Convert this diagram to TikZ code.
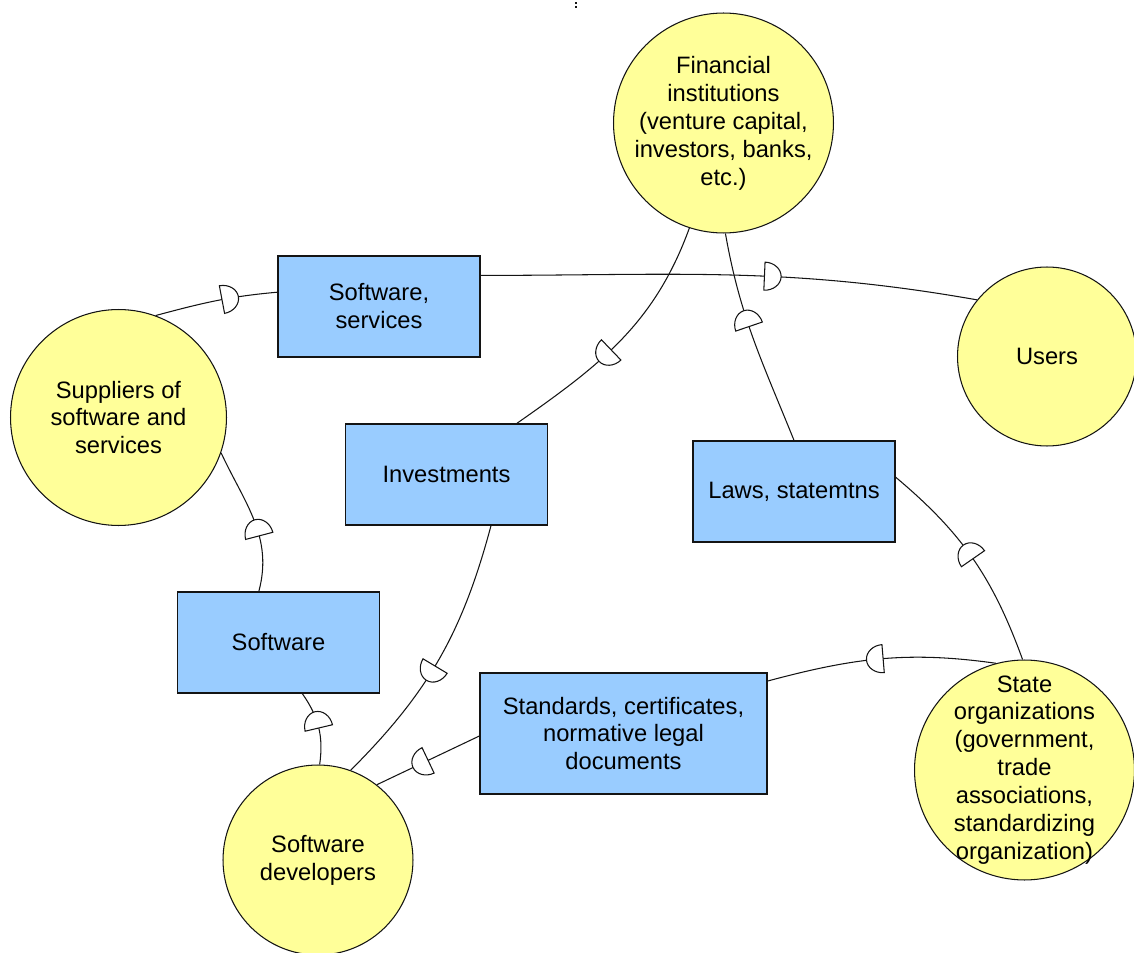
\documentclass[tikz,border=0pt]{standalone}
\usepackage{fontspec}
\setmainfont{Liberation Sans}
\usepackage{tikz}
\usetikzlibrary{decorations.markings}
\definecolor{boxblue}{RGB}{153,204,255}
\definecolor{bubyellow}{RGB}{255,255,153}
\definecolor{mydark}{RGB}{20,20,20}
\newcommand{\halfdisk}{\draw[draw=mydark, fill=white, line width=0.6pt] (0pt,8pt) arc[start angle=90, end angle=-90, x radius=9.5pt, y radius=8pt] -- cycle;}
\tikzset{
  actor/.style={circle, draw=mydark, fill=bubyellow, line width=0.6pt, inner sep=0pt},
  actortext/.style={align=center, font=\fontsize{13.5}{15.9}\selectfont},
  flowbox/.style={rectangle, draw=mydark, fill=boxblue, line width=0.8pt,
    align=center, minimum width=4.04cm, minimum height=2.02cm,
    font=\fontsize{13.5}{15.9}\selectfont},
  flow/.style={line width=0.6pt, draw=mydark, postaction={decorate},
    decoration={markings, mark=at position #1 with {\halfdisk}}}
}

\begin{document}
\begin{tikzpicture}[x=0.02cm, y=0.02cm]
  \useasboundingbox (0,0) rectangle (1134,-953);

  % Actors
  \node[actor, minimum size=4.4cm] (fin_inst) at (723.5,-123) {};
  \node[actortext] (fin_inst_txt) at (fin_inst) {Financial\\institutions\\(venture capital,\\investors, banks,\\etc.)};
  \node[actor, minimum size=3.58cm] (users) at (1047,-356.5) {};
  \node[actortext] (users_txt) at (users) {Users};
  \node[actor, minimum size=4.32cm] (suppliers) at (118.5,-417.5) {};
  \node[actortext] (suppliers_txt) at (suppliers) {Suppliers of\\software and\\services};
  \node[actor, minimum size=3.8cm] (sw_devs) at (318,-860) {};
  \node[actortext] (sw_devs_txt) at (sw_devs) {Software\\developers};
  \node[actor, minimum size=4.4cm] (state_org) at (1024.5,-770) {};
  \node[actortext] (state_org_txt) at (state_org) {State\\organizations\\(government,\\trade\\associations,\\standardizing\\organization)};

  % Flows
  \node[flowbox] (sw_serv) at (379,-306.5) {Software,\\services};
  \node[flowbox] (invest) at (446.5,-474.5) {Investments};
  \node[flowbox] (laws) at (794,-491.5) {Laws, statemtns};
  \node[flowbox] (software) at (278.5,-642.5) {Software};
  \node[flowbox, minimum width=5.74cm, minimum height=2.42cm] (standards) at (623.5,-733.5)
    {Standards, certificates,\\normative legal\\documents};

  % Connectors
  \draw[flow=0.55] (suppliers.70) to[out=15, in=185] (sw_serv.172);
  \draw[flow=0.57] (sw_serv.17) to[out=0, in=170] (users.141);
  \draw[flow=0.55] (fin_inst.252) to[out=-110, in=35] (invest.36);
  \draw[flow=0.56] (laws.north) to[out=112, in=-80] (fin_inst.271);
  \draw[flow=0.5] (state_org.91) to[out=110, in=-40] (laws.8);
  \draw[flow=0.49] (state_org.105) to[out=172, in=15] (standards.20);
  \draw[flow=0.53] (invest.-49) to[out=-105, in=45] (sw_devs.70);
  \draw[flow=0.5] (standards.181) -- (sw_devs.52);
  \draw[flow=0.49] (sw_devs.89) to[out=82, in=-55] (software.-65);
  \draw[flow=0.38] (software.111) to[out=75, in=-65] (suppliers.-19);

  % Mark at top
  \fill[mydark] (574.5,-2.5) rectangle (576.5,-4.5);
  \fill[mydark] (574.5,-6) rectangle (576.5,-8.5);
\end{tikzpicture}
\end{document}
